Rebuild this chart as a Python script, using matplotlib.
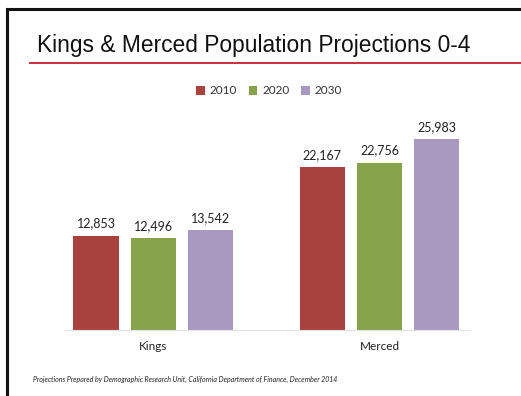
import matplotlib
matplotlib.use("Agg")
import matplotlib.pyplot as plt
import numpy as np
from matplotlib.lines import Line2D
from matplotlib.patches import Patch

# Data
regions = ["Kings", "Merced"]
years = ["2010", "2020", "2030"]
pop_2010 = [12853, 22167]
pop_2020 = [12496, 22756]
pop_2030 = [13542, 25983]
colors = ["#A8423F", "#86A34B", "#A899C1"]

W, H = 521, 396
fig = plt.figure(figsize=(W / 100, H / 100), dpi=100)
fig.patch.set_facecolor("white")

def px(x, y):
    return x / W, 1 - y / H

# Slide frame (left and top edges)
fig.add_artist(Line2D([7 / W, 7 / W], [0, 1 - 9 / H], color="#111111", lw=2.2))
fig.add_artist(Line2D([7 / W, 1], [1 - 9 / H, 1 - 9 / H], color="#111111", lw=2.2))

# Title and rule
fig.text(*px(37, 52), "Kings & Merced Population Projections 0-4",
         fontsize=16.4, family="Liberation Sans", color="#111111",
         ha="left", va="baseline")
fig.add_artist(Line2D([30 / W, 1], [1 - 63 / H, 1 - 63 / H], color="#C8303A", lw=1.4))

# Chart axes
left, right, bottom, top = 65, 470, 330, 109.5
ax = fig.add_axes([left / W, 1 - bottom / H, (right - left) / W, (bottom - top) / H])
ax.set_ylim(0, 30000)
ax.set_xlim(-0.389, 1.40)
for s in ["top", "right", "left"]:
    ax.spines[s].set_visible(False)
ax.spines["bottom"].set_color("#E3E3E3")
ax.spines["bottom"].set_linewidth(0.8)
ax.set_yticks([])
ax.set_facecolor("none")

x = np.arange(len(regions))
width = 0.199
offset = 0.252
series = [pop_2010, pop_2020, pop_2030]
for i, (vals, c, yr) in enumerate(zip(series, colors, years)):
    xs = x + (i - 1) * offset
    bars = ax.bar(xs, vals, width=width, color=c, label=yr)
    for b, v in zip(bars, vals):
        ax.annotate(f"{v:,}", (b.get_x() + b.get_width() / 2, v),
                    xytext=(0, 4.5), textcoords="offset points",
                    ha="center", va="bottom", fontsize=9, family="Lato",
                    color="#222222")

ax.set_xticks(x)
ax.set_xticklabels(regions, fontsize=8.5, family="Lato", color="#222222")
ax.tick_params(axis="x", length=0, pad=8)

# Legend
handles = [Patch(facecolor=c, edgecolor="none") for c in colors]
fig.legend(handles, years, loc="center", bbox_to_anchor=px(269, 91),
           ncol=3, frameon=False, prop={"family": "Lato", "size": 8.5},
           handlelength=0.75, handleheight=0.75, handletextpad=0.4,
           columnspacing=1.0, labelcolor="#333333")

# Source note
fig.text(*px(33, 382), "Projections Prepared by Demographic Research Unit, California Department of Finance, December 2014",
         fontsize=5.05, style="italic", family="Lato", color="#222222",
         ha="left", va="baseline")

fig.savefig("out.png", dpi=100, facecolor="white")
